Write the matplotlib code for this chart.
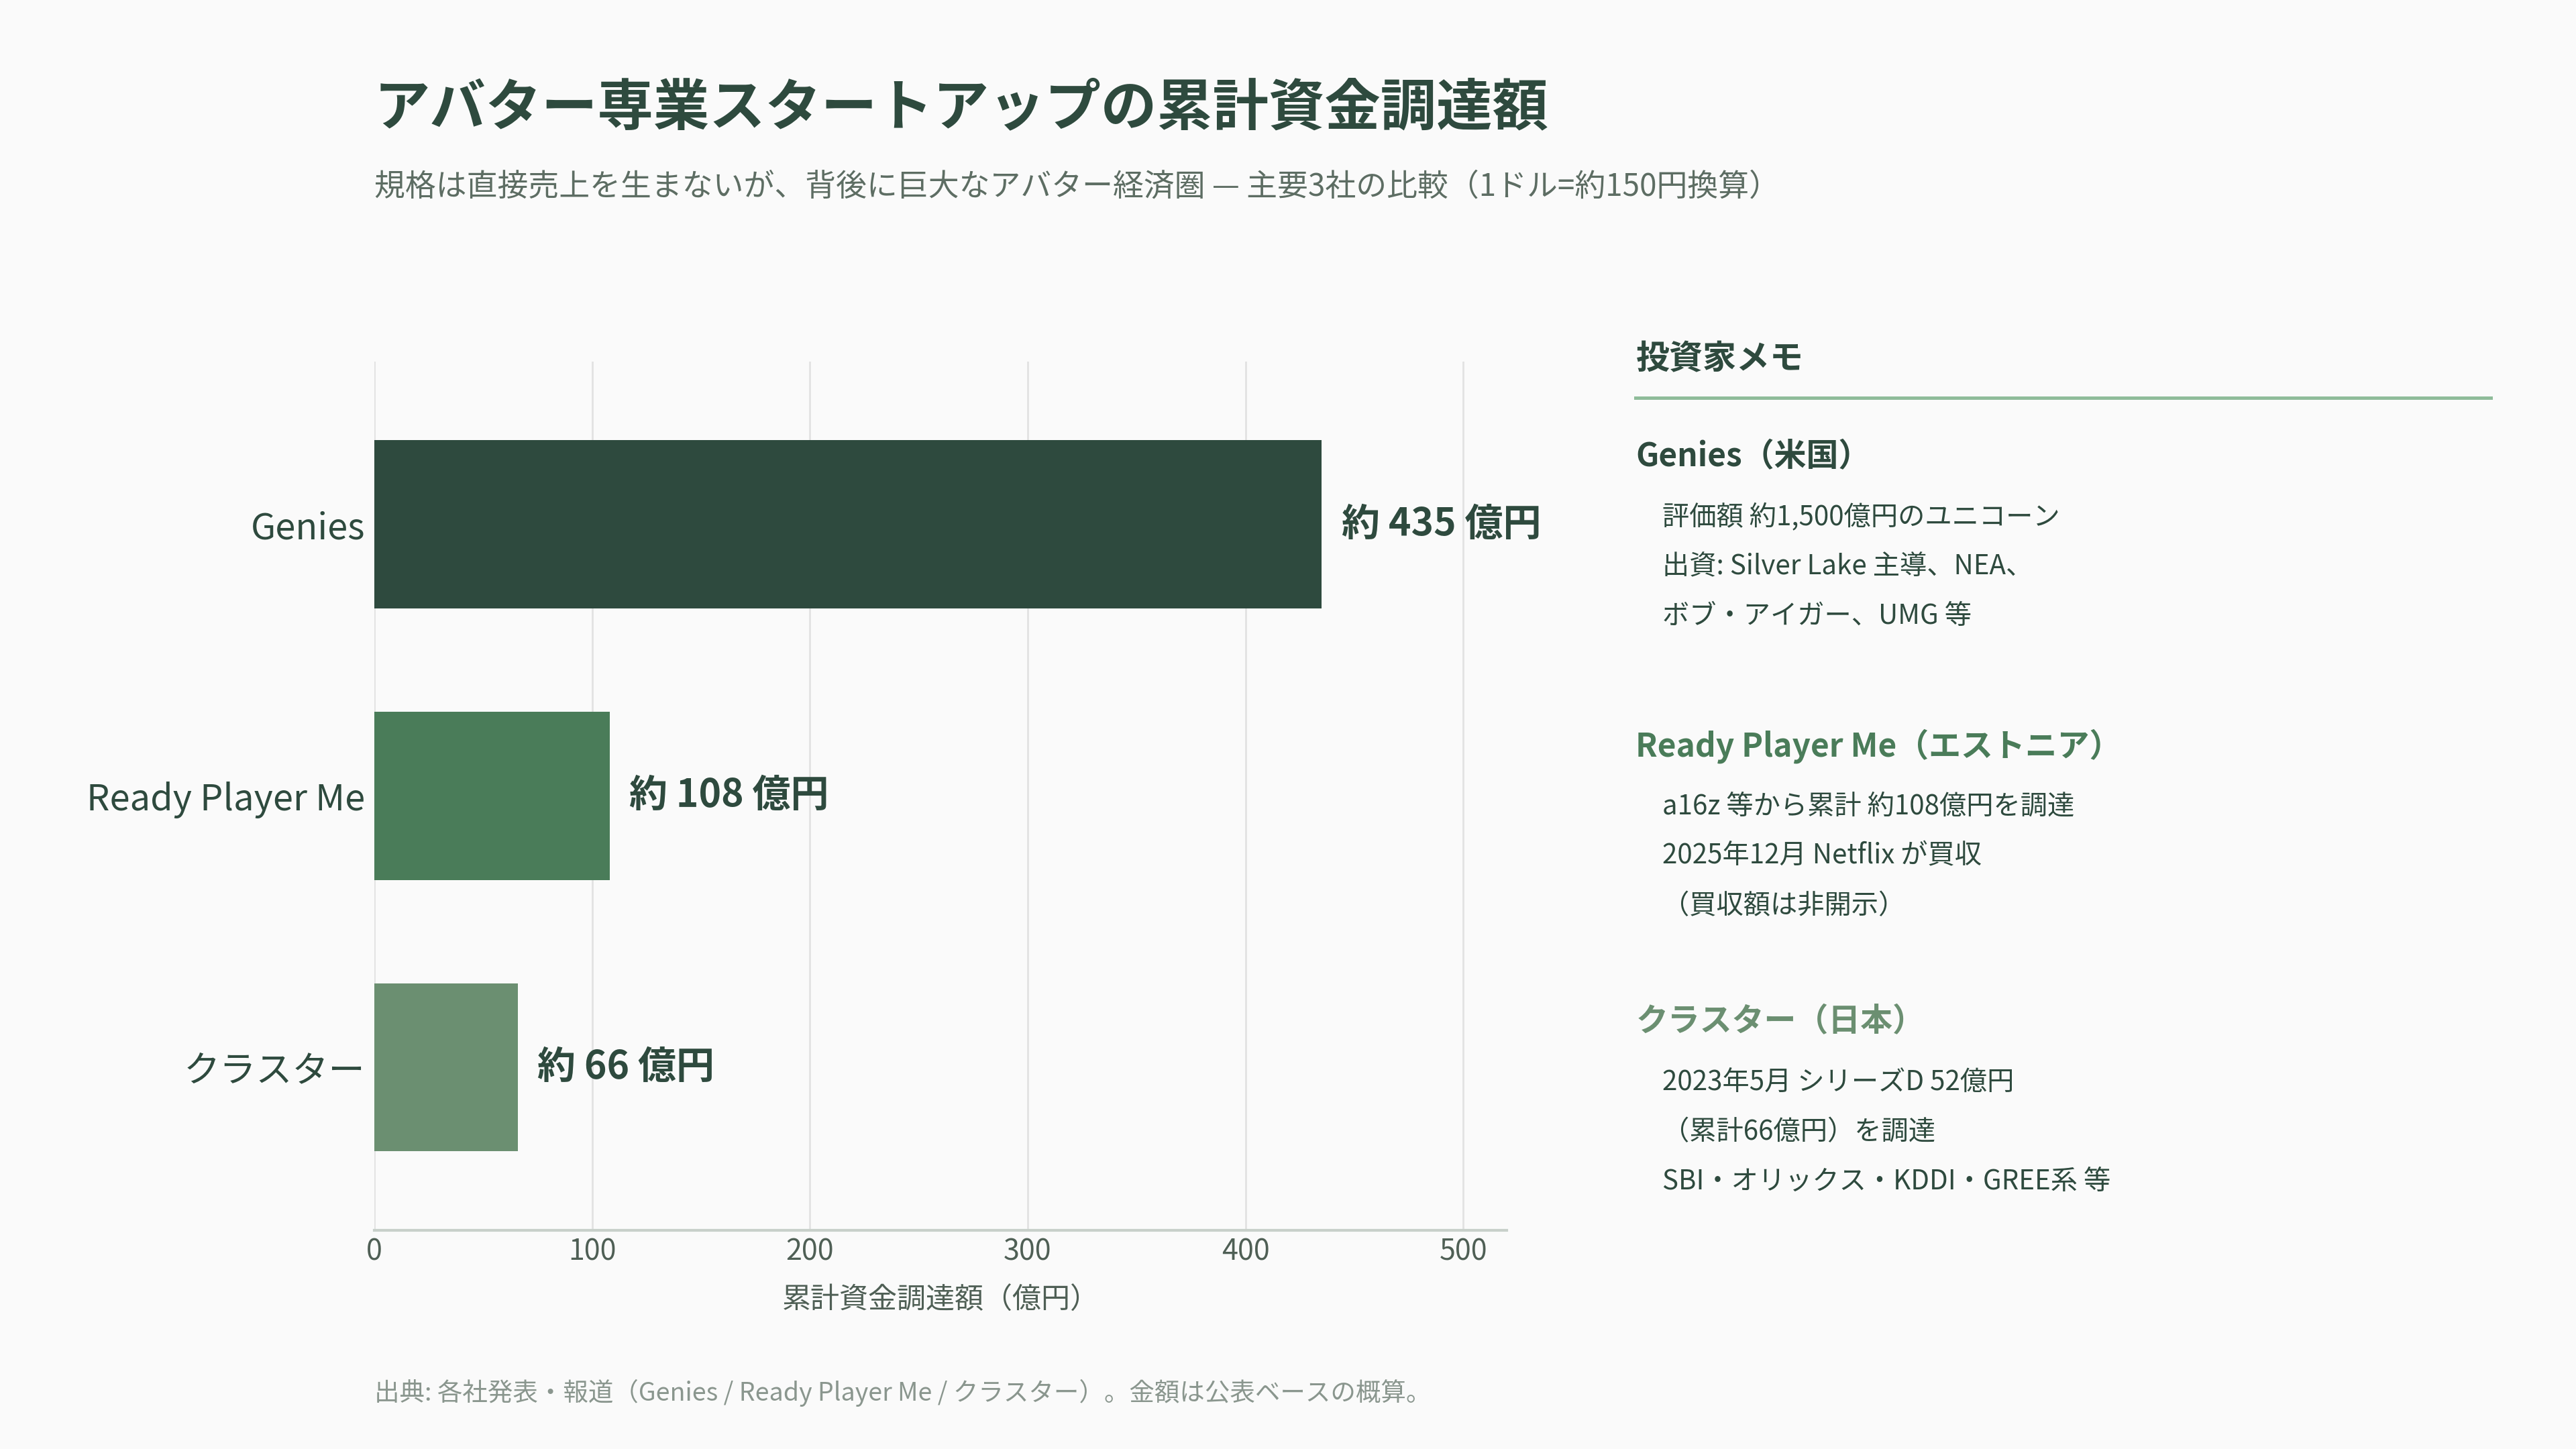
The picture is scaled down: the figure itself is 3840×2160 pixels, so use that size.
import matplotlib
matplotlib.use("Agg")
import matplotlib.pyplot as plt
from matplotlib.lines import Line2D

plt.rcParams['font.family'] = ['Noto Sans CJK JP', 'DejaVu Sans']

# data
companies = ["Genies", "Ready Player Me", "クラスター"]
funding = [435, 108, 66]  # 億円
bar_colors = ["#2e4a3e", "#4a7c59", "#6b8f71"]
xticks = [0, 100, 200, 300, 400, 500]

memo_titles = ["Genies（米国）", "Ready Player Me（エストニア）", "クラスター（日本）"]
memo_lines = [
    ["評価額 約1,500億円のユニコーン", "出資: Silver Lake 主導、NEA、", "ボブ・アイガー、UMG 等"],
    ["a16z 等から累計 約108億円を調達", "2025年12月 Netflix が買収", "（買収額は非開示）"],
    ["2023年5月 シリーズD 52億円", "（累計66億円）を調達", "SBI・オリックス・KDDI・GREE系 等"],
]

title = "アバター専業スタートアップの累計資金調達額"
subtitle = "規格は直接売上を生まないが、背後に巨大なアバター経済圏 — 主要3社の比較（1ドル=約150円換算）"
footer = "出典: 各社発表・報道（Genies / Ready Player Me / クラスター）。金額は公表ベースの概算。"

bg = "#fafafa"
dark = "#2e4a3e"

fig = plt.figure(figsize=(38.4, 21.6), dpi=100, facecolor=bg)
ax = fig.add_axes([0.1453, 0.151, 0.4397, 0.5995], facecolor=bg)

ypos = list(range(len(companies)))
ax.barh(ypos, funding, height=0.62, color=bar_colors, zorder=3)
for y, v in zip(ypos, funding):
    ax.annotate(f"約 {v} 億円", xy=(v, y), xytext=(21, 0), textcoords="offset points",
                va="center", ha="left", fontsize=41, fontweight="bold", color=dark)

ax.set_xlim(0, 520)
ax.set_ylim(2.6, -0.6)
ax.set_yticks(ypos)
ax.set_yticklabels(companies, fontsize=39, color=dark)
ax.set_xticks(xticks)
ax.set_xticklabels([str(t) for t in xticks], fontsize=31, color="#4f5f55")
ax.tick_params(axis="y", length=0, pad=10)
ax.tick_params(axis="x", length=0, pad=8)
ax.grid(axis="x", color="#e2e2e2", linewidth=2, zorder=0)
for s in ["top", "right", "left"]:
    ax.spines[s].set_visible(False)
ax.spines["bottom"].set_color("#c8d0ca")
ax.spines["bottom"].set_linewidth(3)
ax.set_xlabel("累計資金調達額（億円）", fontsize=31, color="#4f5f55", labelpad=20)

fig.text(0.1453, 0.925, title, fontsize=60, fontweight="bold", color=dark, va="center")
fig.text(0.1453, 0.871, subtitle, fontsize=33, color="#5d6d63", va="center")
fig.text(0.1453, 0.0385, footer, fontsize=27, color="#8a968e", va="center")

# investor memo panel
px = 0.635
fig.text(px, 0.752, "投資家メモ", fontsize=36, fontweight="bold", color=dark, va="center")
fig.add_artist(Line2D([px, 0.967], [0.7255, 0.7255], transform=fig.transFigure,
                      color="#8fbc9a", linewidth=3.6))
head_y = [0.685, 0.4853, 0.295]
for t, lines, y0, c in zip(memo_titles, memo_lines, head_y, bar_colors):
    fig.text(px, y0, t, fontsize=34.5, fontweight="bold", color=c, va="center")
    for i, ln in enumerate(lines):
        fig.text(px + 0.0102, y0 - 0.0418 - i * 0.0343, ln, fontsize=29,
                 color=dark, va="center")

fig.savefig("out.png", dpi=100, facecolor=bg)
